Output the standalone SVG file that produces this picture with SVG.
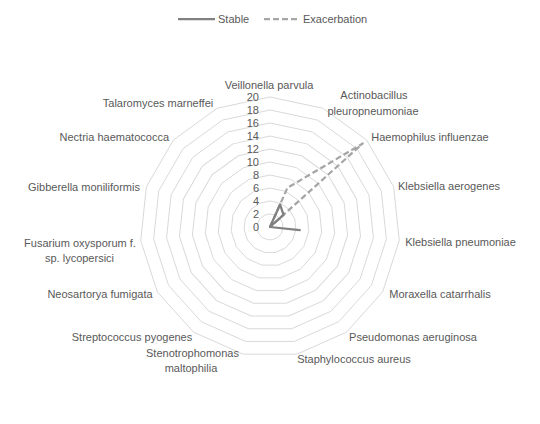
<svg xmlns="http://www.w3.org/2000/svg" width="540" height="424" viewBox="0 0 540 424">
<style>
text{font-family:"Liberation Sans",Arial,sans-serif;font-size:11px;fill:#595959}
.lbl{text-anchor:middle}
.val{text-anchor:end}
.ring{fill:none;stroke:#d9d9d9}
.stable{fill:none;stroke:#808080;stroke-width:2.25;stroke-linejoin:round}
.exac{fill:none;stroke:#a6a6a6;stroke-width:2.25;stroke-dasharray:6 3;stroke-linejoin:round}
</style>
<defs>
<polygon id="ring1" points="0,-13 5.287,-11.876 9.660,-8.698 12.364,-4.017 12.929,1.359 11.258,6.5 7.641,10.517 2.703,12.716 -2.703,12.716 -7.641,10.517 -11.258,6.5 -12.929,1.359 -12.364,-4.017 -9.660,-8.698 -5.287,-11.876"/>
</defs>
<rect width="540" height="424" fill="#ffffff"/>
<g id="legend">
<line x1="178" y1="19" x2="215" y2="19" class="stable"/>
<text x="218" y="23">Stable</text>
<line x1="264" y1="19" x2="300" y2="19" class="exac"/>
<text x="303" y="23">Exacerbation</text>
</g>
<g id="grid" class="ring">
<use href="#ring1" transform="translate(270 227) scale(1)" stroke-width="1"/>
<use href="#ring1" transform="translate(270 227) scale(2)" stroke-width="0.5"/>
<use href="#ring1" transform="translate(270 227) scale(3)" stroke-width="0.3333"/>
<use href="#ring1" transform="translate(270 227) scale(4)" stroke-width="0.25"/>
<use href="#ring1" transform="translate(270 227) scale(5)" stroke-width="0.2"/>
<use href="#ring1" transform="translate(270 227) scale(6)" stroke-width="0.1667"/>
<use href="#ring1" transform="translate(270 227) scale(7)" stroke-width="0.1429"/>
<use href="#ring1" transform="translate(270 227) scale(8)" stroke-width="0.125"/>
<use href="#ring1" transform="translate(270 227) scale(9)" stroke-width="0.1111"/>
<use href="#ring1" transform="translate(270 227) scale(10)" stroke-width="0.1"/>
</g>
<g id="value-axis">
<text class="val" x="259" y="231">0</text>
<text class="val" x="259" y="218">2</text>
<text class="val" x="259" y="205">4</text>
<text class="val" x="259" y="192">6</text>
<text class="val" x="259" y="179">8</text>
<text class="val" x="259" y="166">10</text>
<text class="val" x="259" y="153">12</text>
<text class="val" x="259" y="140">14</text>
<text class="val" x="259" y="127">16</text>
<text class="val" x="259" y="114">18</text>
<text class="val" x="259" y="101">20</text>
</g>
<g id="series">
<polygon id="exacerbation" class="exac" points="270,227 287.45,187.81 362.74,143.5 270,227 270,227 270,227 270,227 270,227 270,227 270,227 270,227 270,227 270,227 270,227 270,227"/>
<polygon id="stable" class="stable" points="270,227 280.05,204.44 283.52,214.82 270,227 299.74,230.12 270,227 270,227 270,227 270,227 270,227 270,227 270,227 270,227 270,227 270,227"/>
</g>
<g id="categories">
<g id="cat-veillonella"><text class="lbl" x="269" y="89">Veillonella parvula</text></g>
<g id="cat-actinobacillus"><text class="lbl" x="374" y="99">Actinobacillus</text><text class="lbl" x="373" y="114.5">pleuropneumoniae</text></g>
<g id="cat-haemophilus"><text class="lbl" x="430" y="140.5">Haemophilus influenzae</text></g>
<g id="cat-kaerogenes"><text class="lbl" x="449" y="190">Klebsiella aerogenes</text></g>
<g id="cat-kpneumoniae"><text class="lbl" x="460.5" y="246">Klebsiella pneumoniae</text></g>
<g id="cat-moraxella"><text class="lbl" x="440" y="298">Moraxella catarrhalis</text></g>
<g id="cat-pseudomonas"><text class="lbl" x="413" y="340.5">Pseudomonas aeruginosa</text></g>
<g id="cat-staphylococcus"><text class="lbl" x="354" y="363">Staphylococcus aureus</text></g>
<g id="cat-stenotrophomonas"><text class="lbl" x="192.5" y="357">Stenotrophomonas</text><text class="lbl" x="191" y="372">maltophilia</text></g>
<g id="cat-streptococcus"><text class="lbl" x="132" y="340.5">Streptococcus pyogenes</text></g>
<g id="cat-neosartorya"><text class="lbl" x="100" y="298">Neosartorya fumigata</text></g>
<g id="cat-fusarium"><text class="lbl" x="80" y="247">Fusarium oxysporum f.</text><text class="lbl" x="79.5" y="262">sp. lycopersici</text></g>
<g id="cat-gibberella"><text class="lbl" x="84" y="190.5">Gibberella moniliformis</text></g>
<g id="cat-nectria"><text class="lbl" x="114.3" y="140.5">Nectria haematococca</text></g>
<g id="cat-talaromyces"><text class="lbl" x="158" y="107">Talaromyces marneffei</text></g>
</g>
</svg>
